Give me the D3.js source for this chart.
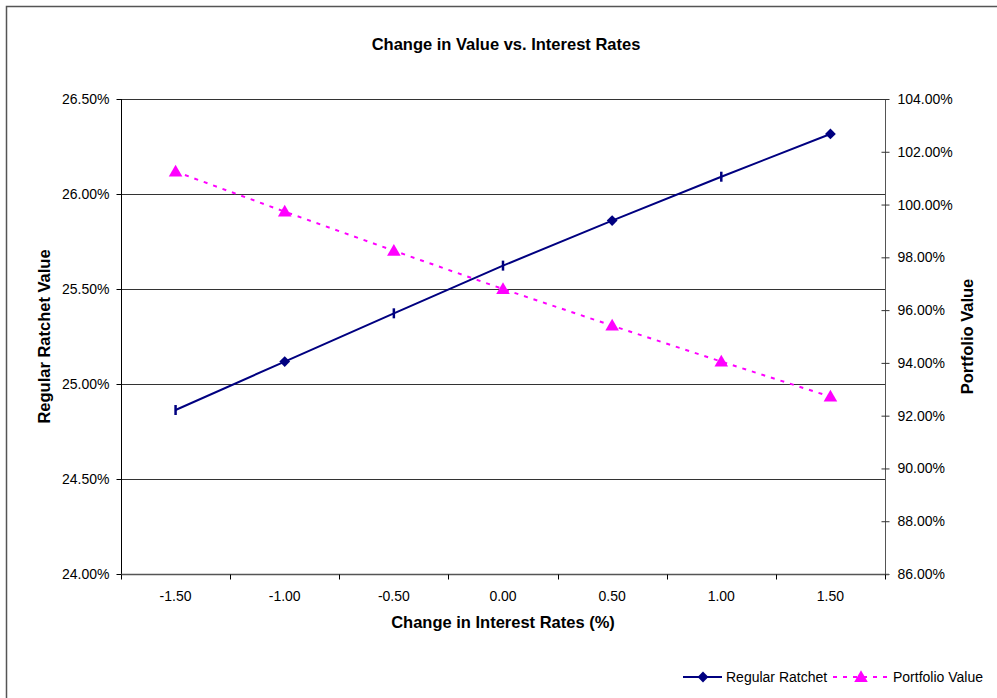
<!DOCTYPE html>
<html>
<head>
<meta charset="utf-8">
<script src="https://cdn.jsdelivr.net/npm/d3@7"></script>
<style>
  html, body { margin: 0; padding: 0; background: #fff; }
  svg { display: block; font-family: "Liberation Sans", Arial, sans-serif; }
</style>
</head>
<body>
<svg id="chart" width="997" height="698"></svg>
<script>
// Rate shifts (category axis) and the two series measured at each shift
const rateChanges = ["-1.50", "-1.00", "-0.50", "0.00", "0.50", "1.00", "1.50"];
const regularRatchet = [24.863, 25.118, 25.372, 25.623, 25.860, 26.091, 26.316]; // %
const portfolioValue = [101.25, 99.73, 98.25, 96.80, 95.41, 94.05, 92.72];       // %
const leftTicks = [24.0, 24.5, 25.0, 25.5, 26.0, 26.5];
const rightTicks = [86, 88, 90, 92, 94, 96, 98, 100, 102, 104];

const svg = d3.select("#chart");
const m = { left: 121, right: 885, top: 99, bottom: 574 };

const x = d3.scaleBand().domain(rateChanges).range([m.left, m.right]).padding(0);
const yL = d3.scaleLinear().domain([24.0, 26.5]).range([m.bottom, m.top]);
const yR = d3.scaleLinear().domain([86, 104]).range([m.bottom, m.top]);
const cx = d => x(d) + x.bandwidth() / 2;

// Outer chart frame
svg.append("rect").attr("x", 6.5).attr("y", 6.5).attr("width", 1100).attr("height", 800)
  .attr("fill", "none").attr("stroke", "#555").attr("stroke-width", 1.5);

// Title
svg.append("text").attr("x", 506).attr("y", 50).attr("text-anchor", "middle")
  .attr("font-size", 16.5).attr("font-weight", "bold").text("Change in Value vs. Interest Rates");

// Horizontal gridlines from the left axis
svg.append("g").selectAll("line").data(leftTicks.filter(t => t > 24.0)).join("line")
  .attr("x1", m.left).attr("x2", m.right)
  .attr("y1", d => Math.round(yL(d)) + 0.5).attr("y2", d => Math.round(yL(d)) + 0.5)
  .attr("stroke", "#333").attr("stroke-width", 1.2);

// Left axis
const gL = svg.append("g").attr("transform", `translate(${m.left + 0.5},0)`)
  .call(d3.axisLeft(yL).tickValues(leftTicks).tickSize(5).tickPadding(7)
    .tickFormat(d => d.toFixed(2) + "%"));
gL.select(".domain").attr("stroke", "#000").attr("d", `M0,${m.top}V${m.bottom}`);
gL.selectAll(".tick line").attr("stroke", "#000");
gL.selectAll("text").attr("font-size", 14).attr("font-family", "Liberation Sans, Arial, sans-serif").attr("fill", "#000");

// Right axis (ticks cross the axis line)
const gR = svg.append("g").attr("transform", `translate(${m.right + 0.5},0)`)
  .call(d3.axisRight(yR).tickValues(rightTicks).tickSize(4).tickPadding(8)
    .tickFormat(d => d.toFixed(2) + "%"));
gR.select(".domain").attr("stroke", "#555").attr("d", `M0,${m.top}V${m.bottom}`);
gR.selectAll(".tick line").attr("stroke", "#333").attr("x1", -4);
gR.selectAll("text").attr("font-size", 14).attr("font-family", "Liberation Sans, Arial, sans-serif").attr("fill", "#000");

// Bottom category axis: ticks at category boundaries
const gB = svg.append("g").attr("transform", `translate(0,${m.bottom + 0.5})`);
gB.append("line").attr("x1", m.left).attr("x2", m.right + 4).attr("stroke", "#555").attr("stroke-width", 1.5);
const bounds = rateChanges.map(d => x(d)).concat([m.right]);
gB.selectAll("line.tk").data(bounds).join("line").attr("class", "tk")
  .attr("x1", d => Math.round(d) + 0.5).attr("x2", d => Math.round(d) + 0.5)
  .attr("y1", 0).attr("y2", 5).attr("stroke", "#000");
gB.selectAll("text").data(rateChanges).join("text")
  .attr("x", d => cx(d)).attr("y", 26).attr("text-anchor", "middle")
  .attr("font-size", 14).text(d => d);

// Axis titles
svg.append("text").attr("x", 503).attr("y", 628).attr("text-anchor", "middle")
  .attr("font-size", 16.5).attr("font-weight", "bold").text("Change in Interest Rates (%)");
svg.append("text").attr("transform", `translate(50,${(m.top + m.bottom) / 2}) rotate(-90)`)
  .attr("text-anchor", "middle").attr("font-size", 16.5).attr("font-weight", "bold")
  .text("Regular Ratchet Value");
svg.append("text").attr("transform", `translate(973,${(m.top + m.bottom) / 2}) rotate(-90)`)
  .attr("text-anchor", "middle").attr("font-size", 16.5).attr("font-weight", "bold")
  .text("Portfolio Value");

const navy = "#000080", pink = "#FF00FF";

// Portfolio value: dashed magenta line with triangles
svg.append("path").datum(portfolioValue)
  .attr("fill", "none").attr("stroke", pink).attr("stroke-width", 2).attr("stroke-dasharray", "4,6")
  .attr("d", d3.line().x((d, i) => cx(rateChanges[i])).y(d => yR(d)));
const tri = d3.symbol().type(d3.symbolTriangle).size(80);
svg.append("g").selectAll("path").data(portfolioValue).join("path")
  .attr("transform", (d, i) => `translate(${cx(rateChanges[i])},${yR(d) + 1})`)
  .attr("d", tri).attr("fill", pink);

// Regular ratchet: solid navy line with diamond / bar markers
svg.append("path").datum(regularRatchet)
  .attr("fill", "none").attr("stroke", navy).attr("stroke-width", 2)
  .attr("d", d3.line().x((d, i) => cx(rateChanges[i])).y(d => yL(d)));
const barMarked = new Set([0, 2, 3, 5]);
const diamond = d3.symbol().type(d3.symbolSquare).size(58); // drawn rotated 45°
const gM = svg.append("g");
regularRatchet.forEach((v, i) => {
  const px = cx(rateChanges[i]), py = yL(v);
  if (barMarked.has(i)) {
    gM.append("line").attr("x1", px).attr("x2", px).attr("y1", py - 5).attr("y2", py + 5)
      .attr("stroke", navy).attr("stroke-width", 2.5);
  } else {
    gM.append("path").attr("transform", `translate(${px},${py}) rotate(45)`).attr("d", diamond).attr("fill", navy);
  }
});

// Legend
const lg = svg.append("g").attr("transform", "translate(0,677)");
lg.append("line").attr("x1", 683).attr("x2", 722).attr("stroke", navy).attr("stroke-width", 2);
lg.append("path").attr("transform", "translate(703,0) rotate(45)").attr("d", diamond).attr("fill", navy);
lg.append("text").attr("x", 726).attr("y", 5).attr("font-size", 14).text("Regular Ratchet");
lg.append("line").attr("x1", 833).attr("x2", 891).attr("stroke", pink).attr("stroke-width", 2)
  .attr("stroke-dasharray", "4,6");
lg.append("path").attr("transform", "translate(861,1)").attr("d", tri).attr("fill", pink);
lg.append("text").attr("x", 893).attr("y", 5).attr("font-size", 14).text("Portfolio Value");
</script>
</body>
</html>
